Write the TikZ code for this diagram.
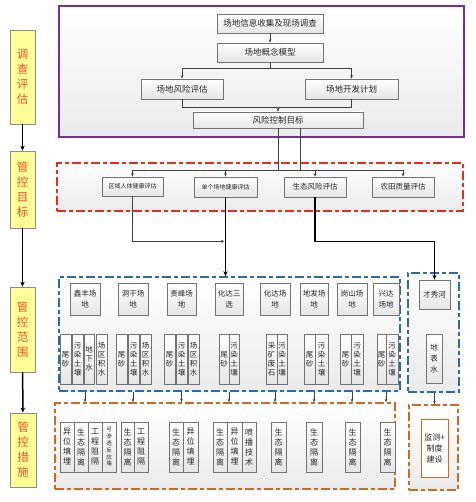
\documentclass[tikz,border=0pt]{standalone}
\usepackage{fontspec}
\newfontfamily\cjk{Noto Sans CJK SC}
\usetikzlibrary{arrows.meta,shadows,calc}
\definecolor{purp}{HTML}{7030A0}
\definecolor{redd}{HTML}{EE2A1E}
\definecolor{blu}{HTML}{2F6AA8}
\definecolor{org}{HTML}{D0691E}
\definecolor{ylw}{HTML}{FFFF99}
\definecolor{ytxt}{HTML}{F5502A}
\newcommand\bx[7]{\node[#1, minimum width={#4-#2}, minimum height={#5-#3}] (#6) at ({(#2+#4)/2},{(#3+#5)/2}) {#7};}
\newcommand\fs[2]{\fontsize{#1}{#2}\selectfont}
\begin{document}
\begin{tikzpicture}[x=1pt,y=-1pt,
  every node/.style={font=\cjk},
  box/.style={draw=black!55, line width=0.6pt, top color=white, bottom color=black!10,
    inner sep=0pt, align=center, text=black!85,
    drop shadow={shadow xshift=0.8pt,shadow yshift=-0.8pt,opacity=0.3}},
  bigt/.style={box, font=\cjk\fs{8.5}{10}},
  midt/.style={box, font=\cjk\fs{7.5}{9}},
  smt/.style={box, font=\cjk\fs{6}{7}},
  site/.style={box, font=\cjk\fs{7.5}{10.5}},
  nbox/.style={box, font=\cjk\fs{7.5}{9}},
  mbox/.style={box, font=\cjk\fs{8}{10}},
  tbox/.style={box, font=\cjk\fs{5.5}{6.8}},
  ybox/.style={draw=black!45, line width=0.8pt, fill=ylw, text=ytxt, align=center, inner sep=0pt,
    font=\cjk\fs{11.5}{15},
    drop shadow={shadow xshift=1pt,shadow yshift=-1pt,opacity=0.3}},
  cont/.style={line width=1.5pt, top color=white, bottom color=black!8, inner sep=0pt},
  ddash/.style={dash pattern=on 9pt off 3pt on 4pt off 3pt},
  line/.style={draw=black!75, line width=0.5pt},
  conn/.style={line, -{Stealth[length=3.5pt,width=2.6pt]}},
  thk/.style={draw=black, line width=1.4pt, -{Stealth[length=5pt,width=4pt]}},
  lcol/.style={draw=black, line width=1.5pt, -{Stealth[length=5pt,width=4.5pt]}}
]
\useasboundingbox (0,0) rectangle (475,502);

% containers
\bx{cont, draw=purp, drop shadow={shadow xshift=1pt,shadow yshift=-1pt,opacity=0.3}}{59}{6}{464}{137}{purpc}{}
\bx{cont, draw=redd, ddash}{57}{163}{463}{211}{redc}{}
\bx{cont, draw=blu, ddash}{59}{277}{400}{391}{bluec}{}
\bx{cont, draw=blu, ddash}{408}{273}{459}{392}{bluec2}{}
\bx{cont, draw=org, ddash}{55}{403}{395}{489}{orgc}{}
\bx{cont, draw=org, ddash}{409}{405}{458}{490}{orgc2}{}

% left column
\bx{ybox}{10}{30}{35}{124}{y1}{调\\查\\评\\估}
\bx{ybox}{10}{151}{35}{228}{y2}{管\\控\\目\\标}
\bx{ybox}{10}{287}{35}{372}{y3}{管\\控\\范\\围}
\bx{ybox}{10}{413}{36}{487}{y4}{管\\控\\措\\施}
\draw[lcol] (y1) -- (y2);
\draw[lcol] (y2) -- (y3);
\draw[lcol] (y3) -- (y4);

% survey
\bx{bigt}{217}{14}{323}{33}{info}{场地信息收集及现场调查}
\bx{bigt}{217}{43}{323}{62}{model}{场地概念模型}
\bx{bigt}{141}{79}{223}{99}{riskA}{场地风险评估}
\bx{bigt}{305}{79}{398}{99}{plan}{场地开发计划}
\bx{bigt}{193}{112}{363}{128}{target}{风险控制目标}

% goals
\bx{smt}{102}{177}{163}{196}{rA}{区域人体健康评估}
\bx{smt}{194}{177}{257}{197}{rB}{单个场地健康评估}
\bx{midt}{284}{177}{346}{197}{rC}{生态风险评估}
\bx{midt}{372}{177}{434}{197}{rD}{农田质量评估}

% sites
\bx{site}{70}{283}{100}{315}{s1}{鑫丰场\\地}
\bx{site}{118}{283}{148}{315}{s2}{洞干场\\地}
\bx{site}{167}{283}{196}{315}{s3}{贵峰场\\地}
\bx{site}{215}{283}{243}{315}{s4}{化达三\\选}
\bx{site}{260}{283}{290}{315}{s5}{化达场\\地}
\bx{site}{300}{283}{328}{315}{s6}{地发场\\地}
\bx{site}{337}{283}{367}{315}{s7}{岗山场\\地}
\bx{site}{373}{283}{399}{315}{s8}{兴达\\场地}
\bx{site}{419}{280}{450}{309}{river}{才秀河}
\bx{site, font=\cjk\fs{7.5}{11}}{426}{334}{442}{383}{surf}{地\\表\\水}

% pollutants
\bx{nbox}{60}{334}{71}{384}{p1}{尾\\砂}
\bx{nbox}{72}{334}{83}{384}{p2}{污\\染\\土\\壤}
\bx{nbox}{84}{334}{94}{384}{p3}{地\\下\\水}
\bx{nbox}{96}{334}{107}{384}{p4}{场\\区\\积\\水}
\bx{nbox}{116}{334}{127}{384}{p5}{尾\\砂}
\bx{nbox}{128}{334}{139}{384}{p6}{污\\染\\土\\壤}
\bx{nbox}{140}{334}{151}{384}{p7}{场\\区\\积\\水}
\bx{nbox}{164}{334}{175}{384}{p8}{尾\\砂}
\bx{nbox}{176}{334}{187}{384}{p9}{污\\染\\土\\壤}
\bx{nbox}{188}{334}{199}{384}{p10}{场\\区\\积\\水}
\bx{nbox}{219}{334}{229}{384}{p11}{尾\\砂}
\bx{nbox}{229}{334}{239}{384}{p12}{污\\染\\土\\壤}
\bx{nbox}{266}{334}{277}{384}{p13}{采\\矿\\废\\石}
\bx{nbox}{277}{334}{287}{384}{p14}{污\\染\\土\\壤}
\bx{nbox}{304}{334}{315}{384}{p15}{尾\\砂}
\bx{nbox}{315}{334}{328}{384}{p16}{污\\染\\土\\壤}
\bx{nbox}{340}{334}{351}{384}{p17}{尾\\砂}
\bx{nbox}{351}{334}{363}{384}{p18}{污\\染\\土\\壤}
\bx{nbox}{377}{334}{386}{384}{p19}{尾\\砂}
\bx{nbox}{386}{334}{398}{384}{p20}{污\\染\\土\\壤}

% measures
\bx{mbox}{60}{422}{74}{472}{m1}{异\\位\\填\\埋}
\bx{mbox}{74}{422}{88}{472}{m2}{生\\态\\隔\\离}
\bx{mbox}{88}{422}{102}{472}{m3}{工\\程\\阻\\隔}
\bx{tbox}{102}{422}{116}{472}{m4}{可\\渗\\透\\反\\应\\墙}
\bx{mbox}{121}{422}{134}{472}{m5}{生\\态\\隔\\离}
\bx{mbox}{134}{422}{148}{472}{m6}{工\\程\\阻\\隔}
\bx{mbox}{169}{422}{183}{472}{m7}{生\\态\\隔\\离}
\bx{mbox}{183}{422}{198}{472}{m8}{异\\位\\填\\埋}
\bx{mbox}{213}{422}{227}{472}{m9}{生\\态\\隔\\离}
\bx{mbox}{227}{422}{242}{472}{m10}{异\\位\\填\\埋}
\bx{mbox}{242}{422}{256}{472}{m11}{喷\\播\\技\\术}
\bx{mbox}{271}{422}{286}{472}{m12}{生\\态\\隔\\离}
\bx{mbox}{306}{422}{322}{472}{m13}{生\\态\\隔\\离}
\bx{mbox}{345}{422}{360}{472}{m14}{生\\态\\隔\\离}
\bx{mbox}{380}{422}{395}{472}{m15}{生\\态\\隔\\离}
\bx{draw=org, line width=0.8pt, fill=white, inner sep=0pt, align=center, text=black!85, font=\cjk\fs{8}{11}}{421}{419}{448}{477}{mon}{监测+\\制度\\建设}

% survey connectors
\draw[conn] (info) -- (model);
\path (model.south) ++(0,6) coordinate (m1c);
\draw[conn] (model.south) -- (m1c) -| (riskA.north);
\draw[conn] (m1c) -| (plan.north);
\path (riskA.south) ++(0,8) coordinate (h1);
\draw[line] (riskA.south) -- (h1) -| (plan.south);
\draw[conn] (target.north |- h1) -- (target.north);

% to goals
\path (target.south) ++(0,42) coordinate (h2);
\draw[line] (target.south) -- (h2);
\draw[line] ($(target.south)+(22,0)$) -- ($(h2)+(22,0)$);
\draw[conn] (h2) -| (rA.north);
\draw[conn] (h2) -| (rB.north);
\draw[line] (h2) -- ($(h2)+(22,0)$);
\draw[conn] ($(h2)+(22,0)$) -| (rC.north);
\draw[conn] ($(h2)+(22,0)$) -| (rD.north);

% goals to scope
\path (rB.south) ++(0,44) coordinate (j);
\draw[conn] (rA.south) |- ($(j)+(-1,0)$);
\draw[thk] (rB.south) -- (rB.south |- bluec.north);
\draw[thk] (rC.south) -- (rC.south |- j) -| (river.north);

% scope to measures
\foreach \s in {s1,s2,s3,s4,s5,s6,s7,s8}{
  \draw[conn] (\s |- bluec.south) -- (\s |- orgc.north);
}
\draw[conn] (river |- bluec2.south) -- (river |- orgc2.north);
\end{tikzpicture}
\end{document}
